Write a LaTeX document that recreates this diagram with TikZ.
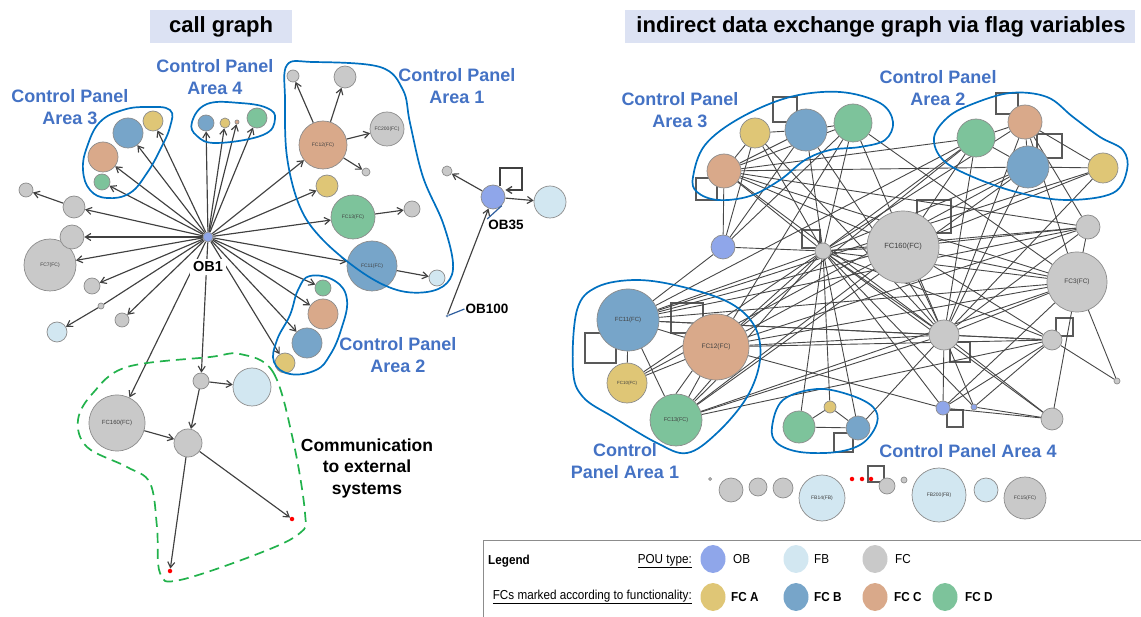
\documentclass[tikz,border=0pt]{standalone}
\usepackage{fontspec}
\setmainfont{Liberation Sans}
\newfontfamily\narrowsans{Liberation Sans}[FakeStretch=0.9]
\usetikzlibrary{arrows.meta}
\pgfdeclarelayer{bg}
\pgfsetlayers{bg,main}
\definecolor{colOB}{HTML}{8FA6EA}
\definecolor{colFB}{HTML}{D2E7F1}
\definecolor{colFC}{HTML}{C9C9C9}
\definecolor{colA}{HTML}{DFC676}
\definecolor{colB}{HTML}{77A5C9}
\definecolor{colC}{HTML}{D9A98A}
\definecolor{colD}{HTML}{7DC39B}
\definecolor{areablue}{HTML}{0070C0}
\definecolor{labelblue}{HTML}{4472C4}
\definecolor{titlebg}{HTML}{DCE2F3}
\definecolor{dashgreen}{HTML}{22B24C}
\definecolor{pointerblue}{HTML}{2E5E9E}
\tikzset{
  nd/.style={circle, draw=black!45, line width=0.7pt, inner sep=0pt, font=\fontsize{5}{5}\selectfont, text=black!75},
  rad/.style={minimum size={(2*#1)*1pt}},
  cOB/.style={nd, fill=colOB}, cFB/.style={nd, fill=colFB}, cFC/.style={nd, fill=colFC},
  cA/.style={nd, fill=colA}, cB/.style={nd, fill=colB}, cC/.style={nd, fill=colC}, cD/.style={nd, fill=colD},
  arr/.style={draw=black!75, line width=1.15pt, -{Straight Barb[length=5.5pt,width=7pt]}},
  ln/.style={draw=black!72, line width=0.9pt},
  loopsq/.style={draw=black!65, line width=1.1pt},
  area/.style={draw=areablue, line width=1.7pt},
  arealabel/.style={text=labelblue, font=\bfseries\fontsize{18}{21.5}\selectfont, align=center, inner sep=0pt},
  blacklabel/.style={text=black, font=\bfseries\fontsize{13.5}{16}\selectfont, inner sep=1pt},
  titletext/.style={font=\bfseries\fontsize{22}{24}\selectfont, inner sep=0pt},
  legtext/.style={font=\narrowsans\fontsize{13}{14}\selectfont, inner sep=0pt, anchor=west},
  legbold/.style={legtext, font=\narrowsans\bfseries\fontsize{13}{14}\selectfont},
  reddot/.style={circle, fill=red, draw=none, inner sep=0pt, minimum size=4.5pt},
}
\begin{document}
\begin{tikzpicture}[x=1pt,y=-1pt]
\useasboundingbox (0,0) rectangle (1141,617);
% titles
\fill[titlebg] (150,10) rectangle (292,43);
\node[titletext] (t1) at (221,27) {call graph};
\fill[titlebg] (625,10) rectangle (1135,43);
\node[titletext] (t2) at (881,27) {indirect data exchange graph via flag variables};

% ================= LEFT: call graph =================
\node[cOB, rad=5] (OB1) at (208,237) {};
\node[cB, rad=15] (a3b) at (128,133) {};
\node[cA, rad=10] (a3y) at (153,121) {};
\node[cC, rad=15] (a3o) at (103,157) {};
\node[cD, rad=8] (a3g) at (102,182) {};
\node[cB, rad=8] (a4b) at (206,123) {};
\node[cA, rad=5] (a4y) at (225,123) {};
\node[cC, rad=2] (a4o) at (237,122) {};
\node[cD, rad=10] (a4g) at (257,118) {};
\node[cFC, rad=7] (l1) at (26,190) {};
\node[cFC, rad=11] (l2) at (74,207) {};
\node[cFC, rad=26] (fc7) at (50,265) {FC7(FC)};
\node[cFC, rad=12] (l3) at (72,237) {};
\node[cFC, rad=8] (l4) at (92,286) {};
\node[cFC, rad=3] (l5) at (101,306) {};
\node[cFB, rad=10] (l6) at (57,332) {};
\node[cFC, rad=7] (l7) at (122,320) {};
\node[cFC, rad=6] (a1s) at (293,76) {};
\node[cFC, rad=11] (a1g1) at (345,77) {};
\node[cC, rad=24] (fc12) at (323,145) {FC12(FC)};
\node[cFC, rad=17] (fc200) at (387,129) {FC200(FC)};
\node[cFC, rad=4] (a1t) at (366,172) {};
\node[cA, rad=11] (a1y) at (327,186) {};
\node[cD, rad=22] (fc13) at (353,217) {FC13(FC)};
\node[cFC, rad=8] (a1g2) at (412,209) {};
\node[cB, rad=25] (fc11) at (372,266) {FC11(FC)};
\node[cFB, rad=8] (a1lb) at (437,278) {};
\node[cD, rad=8] (a2g) at (323,288) {};
\node[cC, rad=15] (a2o) at (323,314) {};
\node[cB, rad=15] (a2b) at (307,343) {};
\node[cA, rad=10] (a2y) at (285,363) {};
\node[cOB, rad=12] (ob35) at (493,197) {};
\node[cFC, rad=5] (ob35s) at (447,171) {};
\node[cFB, rad=16] (ob35fb) at (550,202) {};
\node[circle, fill=pointerblue!70, inner sep=0pt, minimum size=3pt] (ob100) at (447,316) {};
\node[cFC, rad=8] (c1) at (201,381) {};
\node[cFB, rad=19] (cfb) at (252,387) {};
\node[cFC, rad=28, font=\fontsize{6}{6}\selectfont] (fc160l) at (117,423) {FC160(FC)};
\node[cFC, rad=14] (c2) at (188,443) {};
\node[reddot] (red1) at (292,519) {};
\node[reddot] (red2) at (170,571) {};
\coordinate (sq1) at (500,186);
\coordinate (sq2) at (500,168);
\coordinate (sq3) at (522,168);
\coordinate (sq4) at (522,190);

% labels
\node[blacklabel, fill=white, inner sep=3pt, font=\bfseries\fontsize{14.5}{16}\selectfont] (lOB1) at (208,267) {OB1};
\node[blacklabel] (lOB35) at (506,225) {OB35};
\node[blacklabel] (lOB100) at (487,309) {OB100};
\node[arealabel] (la3) at (70,107) {Control Panel\\Area 3};
\node[arealabel] (la4) at (215,77) {Control Panel\\Area 4};
\node[arealabel] (la1) at (457,86) {Control Panel\\Area 1};
\node[arealabel] (la2) at (398,355) {Control Panel\\Area 2};
\node[font=\bfseries\fontsize{17.5}{21.5}\selectfont, align=center, inner sep=0pt] (lcomm) at (367,468) {Communication\\to external\\systems};

\begin{pgfonlayer}{bg}
\foreach \t in {a3b,a3y,a3o,a3g,a4b,a4y,a4o,a4g,l2,l3,fc7,l4,l7,fc12,a1y,fc13,fc11,a2g,a2o,a2b,a2y,c1,fc160l}
  \draw[arr] (OB1) -- (\t);
\draw[draw=black!75, line width=1.15pt] (OB1) -- (l5);
\draw[arr] (l2) -- (l1);
\draw[arr] (l5) -- (l6);
\draw[arr] (fc12) -- (a1s);
\draw[arr] (fc12) -- (a1g1);
\draw[arr] (fc12) -- (fc200);
\draw[arr] (fc12) -- (a1t);
\draw[arr] (fc13) -- (a1g2);
\draw[arr] (fc11) -- (a1lb);
\draw[arr] (ob35) -- (ob35s);
\draw[arr] (ob35) -- (ob35fb);
\draw[arr] (ob100) -- (ob35);
\draw[arr] (c1) -- (cfb);
\draw[arr] (c1) -- (c2);
\draw[arr] (fc160l) -- (c2);
\draw[arr] (c2) -- (red1);
\draw[arr] (c2) -- (red2);
\draw[arr, line width=1.3pt] (sq1) -- (sq2) -- (sq3) -- (sq4) -- (ob35.east |- sq4);
\end{pgfonlayer}
\draw[pointerblue, line width=1.2pt] (ob35.south east) -- (lOB35.north west);
\draw[pointerblue, line width=1.2pt] (ob100) -- (lOB100.west);

% areas (left)
\draw[area] plot[smooth cycle, tension=0.7] coordinates {(170,110) (147,107) (123,110) (100,122) (87,147) (83,170) (90,190) (107,198) (130,193) (147,173) (160,150) (170,127)};
\draw[area] plot[smooth cycle, tension=0.7] coordinates {(192,122) (207,104) (240,103) (267,108) (275,119) (263,135) (217,143) (197,136)};
\draw[area] plot[smooth cycle, tension=0.6] coordinates {(287,65) (313,62) (380,67) (403,90) (410,123) (423,177) (443,223) (453,263) (447,283) (427,292) (397,290) (363,273) (323,240) (300,207) (287,157) (285,100)};
\draw[area] plot[smooth cycle, tension=0.7] coordinates {(310,276) (335,281) (347,300) (341,330) (330,355) (316,370) (290,374) (274,362) (277,340) (290,315) (298,290)};
\draw[dashgreen, line width=1.7pt, dash pattern=on 10pt off 6pt] plot[smooth cycle, tension=0.6] coordinates {(240,354) (273,372) (293,440) (305,513) (300,533) (260,553) (180,580) (160,573) (157,527) (150,483) (127,467) (87,447) (78,420) (93,393) (127,367) (210,357)};

% ================= RIGHT: data exchange graph =================
\node[cA, rad=15] (r3y) at (755,133) {};
\node[cB, rad=21] (r3b) at (806,130) {};
\node[cD, rad=19] (r3g) at (853,123) {};
\node[cC, rad=17] (r3o) at (724,171) {};
\node[cD, rad=19] (r2g) at (976,138) {};
\node[cC, rad=17] (r2o) at (1025,122) {};
\node[cB, rad=21] (r2b) at (1028,167) {};
\node[cA, rad=15] (r2y) at (1103,168) {};
\node[cOB, rad=12] (rob) at (723,247) {};
\node[cFC, rad=8] (hub) at (823,251) {};
\node[cFC, rad=36, font=\fontsize{7.5}{7.5}\selectfont] (rfc160) at (903,247) {FC160(FC)};
\node[cFC, rad=12] (rg1) at (1088,227) {};
\node[cFC, rad=30, font=\fontsize{6.5}{6.5}\selectfont] (rfc3) at (1077,282) {FC3(FC)};
\node[cFC, rad=15] (hub2) at (944,335) {};
\node[cFC, rad=10] (rg2) at (1052,340) {};
\node[cFC, rad=3] (rt1) at (1117,381) {};
\node[cB, rad=31, font=\fontsize{6}{6}\selectfont] (r11) at (628,320) {FC11(FC)};
\node[cC, rad=33, font=\fontsize{6.5}{6.5}\selectfont] (r12) at (716,347) {FC12(FC)};
\node[cA, rad=20, font=\fontsize{4.5}{4.5}\selectfont] (r10) at (627,383) {FC10(FC)};
\node[cD, rad=26, font=\fontsize{5.5}{5.5}\selectfont] (r13) at (676,420) {FC13(FC)};
\node[cD, rad=16] (r4g) at (799,427) {};
\node[cA, rad=6] (r4y) at (830,407) {};
\node[cB, rad=12] (r4b) at (858,428) {};
\node[cOB, rad=7] (rob2) at (943,408) {};
\node[cOB, rad=3] (rtb) at (974,407) {};
\node[cFC, rad=11] (rg3) at (1052,419) {};
% bottom row
\node[cFC, rad=1.5] (b0) at (710,479) {};
\node[cFC, rad=12] (b1) at (731,490) {};
\node[cFC, rad=9] (b2) at (758,487) {};
\node[cFC, rad=10] (b3) at (783,488) {};
\node[cFB, rad=23] (fb14) at (822,498) {FB14(FB)};
\node[reddot] (rd1) at (852,479) {};
\node[reddot] (rd2) at (862,479) {};
\node[reddot] (rd3) at (871,479) {};
\node[cFC, rad=8] (b4) at (887,486) {};
\node[cFC, rad=3] (b5) at (904,480) {};
\node[cFB, rad=27] (fb200) at (939,495) {FB200(FB)};
\node[cFB, rad=12] (b6) at (986,490) {};
\node[cFC, rad=21] (b7) at (1025,498) {FC15(FC)};

% labels (right)
\node[arealabel] (lr3) at (680,110) {Control Panel\\Area 3};
\node[arealabel] (lr2) at (938,88) {Control Panel\\Area 2};
\node[arealabel] (lr1) at (625,461) {Control\\Panel Area 1};
\node[arealabel] (lr4) at (968,451) {Control Panel Area 4};

\begin{pgfonlayer}{bg}
% self-loop squares
\foreach \a/\b in {{773,97}/{797,122}, {696,178}/{717,200}, {802,230}/{820,248}, {996,93}/{1018,114}, {1037,134}/{1062,158}, {917,200}/{951,233}, {950,342}/{970,362}, {1056,318}/{1073,336}, {947,410}/{963,427}, {585,333}/{616,363}, {671,303}/{703,333}, {834,433}/{853,452}, {868,466}/{884,482}}
  \draw[loopsq] (\a) rectangle (\b);
% edges
\foreach \s/\t in {
  r3y/r3b, r3o/r3y, r3o/r3b, r3o/r3g, r3b/r3g,
  r2g/r2o, r2g/r2b, r2o/r2b, r2o/r2y, r2b/r2y,
  r11/r12, r11/r10, r11/r13, r10/r12, r13/r12,
  r4g/r4y, r4y/r4b, r4g/r4b,
  hub/r3o, hub/r3y, hub/r3b, hub/r3g, hub/rob, hub/r11, hub/r12, hub/r13, hub/r10, hub/r4g, hub/r4y, hub/r4b,
  hub/rfc160, hub/hub2, hub/rg2, hub/rfc3, hub/rg1, hub/r2g, hub/r2b, hub/r2o, hub/rob2, hub/rtb, hub/rg3,
  hub2/r3b, hub2/r3o, hub2/r3g, hub2/r2b, hub2/r2o, hub2/r2g, hub2/rfc160, hub2/r12, hub2/r11, hub2/r13,
  hub2/rfc3, hub2/rg1, hub2/rg2, hub2/rob2, hub2/rg3, hub2/rtb, hub2/r4b, hub2/r3y, hub2/r2y,
  rfc160/r3o, rfc160/r12, rfc160/r11, rfc160/rfc3, rfc160/rg1, rfc160/r2y, rfc160/rg2, rfc160/r13, rfc160/r2g,
  rfc3/rg1, rfc3/rg3, rfc3/rt1, rfc3/r12, rfc3/r11, rfc3/r2o, rfc3/rob2, rfc3/r3o,
  rg2/rt1, rg2/rob2, rg2/r12, rg2/r11, rg2/rtb,
  rg1/r3o, rg1/r2o, rg1/r12, rg1/r11,
  rob/r3o, rob/r3b, rob/r3y, rob/r11, rob/r3g,
  rob2/rg3, rtb/rg3, rob2/r12,
  r2y/r11, r2g/r11, r2g/r12, r2b/r13, r2b/r10,
  r13/rfc3, r13/rg2, r3o/r2g, r3o/r2b, r3g/r12, r3g/rfc3}
  \draw[ln] (\s) -- (\t);
\draw[ln] (r13.north east) -- (r12.south);
\draw[ln] (r13.north) -- (r12.south west);
\end{pgfonlayer}

% areas (right)
\draw[area] plot[smooth cycle, tension=0.6] coordinates {(693,177) (705,145) (740,118) (790,97) (840,92) (880,103) (893,122) (885,140) (860,147) (830,150) (805,160) (780,180) (750,196) (718,200) (697,192)};
\draw[area] plot[smooth cycle, tension=0.6] coordinates {(934,138) (947,118) (970,105) (1010,93) (1047,97) (1073,117) (1100,137) (1123,150) (1127,170) (1113,193) (1067,200) (1020,193) (973,177) (943,160)};
\draw[area] plot[smooth cycle, tension=0.6] coordinates {(573,370) (577,310) (597,287) (637,280) (683,287) (730,303) (755,327) (760,360) (747,397) (717,433) (687,453) (657,443) (613,417) (583,397)};
\draw[area] plot[smooth cycle, tension=0.6] coordinates {(772,427) (783,400) (817,389) (850,395) (873,407) (877,423) (863,443) (837,452) (800,452) (777,443)};

% ================= LEGEND =================
\draw[black!45, line width=0.9pt] (1145,540) -- (483,540) -- (483,621);
\node[legbold] (lg) at (488,561) {Legend};
\node[legtext, anchor=east] (lpou) at (692,561) {\underline{POU type:}};
\node[legtext, anchor=east] (lfcs) at (692,597) {\underline{FCs marked according to functionality:}};
\fill[colOB] (713,559) ellipse (12.5 and 14);
\fill[colFB] (796,559) ellipse (12.5 and 14);
\fill[colFC] (875,559) ellipse (12.5 and 14);
\fill[colA] (713,597) ellipse (12.5 and 14);
\fill[colB] (796,597) ellipse (12.5 and 14);
\fill[colC] (875,597) ellipse (12.5 and 14);
\fill[colD] (945,597) ellipse (12.5 and 14);
\node[legtext] (lob) at (733,559) {OB};
\node[legtext] (lfb) at (814,559) {FB};
\node[legtext] (lfc) at (895,559) {FC};
\node[legbold] (lfa) at (731,597) {FC A};
\node[legbold] (lfb2) at (814,597) {FC B};
\node[legbold] (lfc2) at (894,597) {FC C};
\node[legbold] (lfd) at (965,597) {FC D};
\end{tikzpicture}
\end{document}
